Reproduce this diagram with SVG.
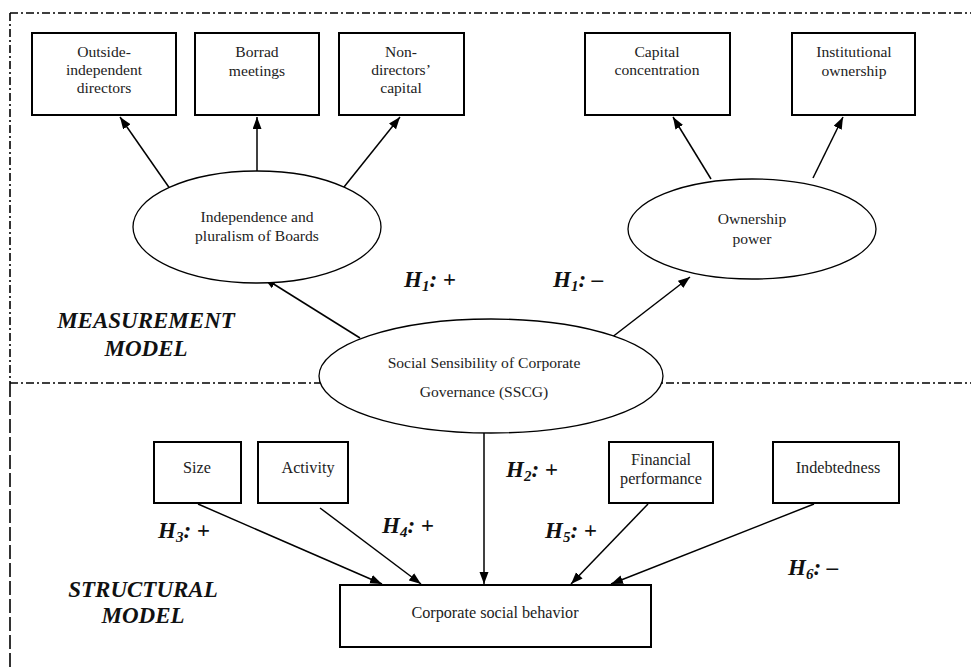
<svg xmlns="http://www.w3.org/2000/svg" width="971" height="671" viewBox="0 0 971 671">
<style>
  .box{fill:#fff;stroke:#000;stroke-width:2}
  .ell{fill:#fff;stroke:#000;stroke-width:1.3}
  .t{font-family:"Liberation Serif","Times New Roman",serif;font-size:15.6px;fill:#222;text-anchor:middle}
  .b{font-size:16.2px}
  .h{font-family:"Liberation Serif","Times New Roman",serif;font-size:23px;font-weight:bold;font-style:italic;fill:#111}
  .m{font-family:"Liberation Serif","Times New Roman",serif;font-size:23px;font-weight:bold;font-style:italic;fill:#111;text-anchor:middle}
  .c line{stroke:#000;stroke-width:1.5;marker-end:url(#ah)}
  .dd{stroke:#000;stroke-width:1.6;fill:none;stroke-dasharray:8 3 2 3}
  .ds{stroke:#000;stroke-width:1.6;fill:none;stroke-dasharray:14 4}
</style>
<defs>
  <marker id="ah" markerUnits="userSpaceOnUse" markerWidth="13" markerHeight="10" refX="12" refY="4.5" orient="auto">
    <path d="M0,0 L12,4.5 L0,9 z" fill="#000"/>
  </marker>
</defs>
<rect width="971" height="671" fill="#fff"/>

<g id="frame">
  <line class="dd" x1="10" y1="13" x2="971" y2="13"/>
  <line class="dd" x1="10" y1="13" x2="10" y2="383"/>
  <line class="ds" x1="10" y1="383" x2="10" y2="671"/>
  <line class="dd" x1="10" y1="383" x2="971" y2="383"/>
</g>

<g id="connectors" class="c">
  <line x1="175" y1="196" x2="120" y2="117"/>
  <line x1="257" y1="172" x2="257" y2="117"/>
  <line x1="340" y1="192" x2="400" y2="117"/>
  <line x1="711" y1="179" x2="673" y2="117"/>
  <line x1="813" y1="178" x2="843" y2="117"/>
  <line x1="360" y1="338" x2="264" y2="278"/>
  <line x1="611" y1="338" x2="690" y2="277"/>
  <line x1="484" y1="433" x2="484" y2="584"/>
  <line x1="198" y1="504" x2="382" y2="584"/>
  <line x1="320" y1="508" x2="421" y2="584"/>
  <line x1="648" y1="504" x2="571" y2="584"/>
  <line x1="814" y1="504" x2="611" y2="584"/>
</g>

<g id="outside-independent-directors">
  <rect class="box" x="32" y="33" width="144" height="82"/>
  <text class="t" x="104" y="57">Outside-</text>
  <text class="t" x="104" y="75">independent</text>
  <text class="t" x="104" y="93">directors</text>
</g>
<g id="borrad-meetings">
  <rect class="box" x="195" y="33" width="124" height="82"/>
  <text class="t" x="257" y="57">Borrad</text>
  <text class="t" x="257" y="76">meetings</text>
</g>
<g id="non-directors-capital">
  <rect class="box" x="339" y="33" width="125" height="82"/>
  <text class="t" x="401" y="57">Non-</text>
  <text class="t" x="401" y="75">directors’</text>
  <text class="t" x="401" y="93">capital</text>
</g>
<g id="capital-concentration">
  <rect class="box" x="585" y="33" width="145" height="82"/>
  <text class="t" x="657" y="57">Capital</text>
  <text class="t" x="657" y="75">concentration</text>
</g>
<g id="institutional-ownership">
  <rect class="box" x="792" y="33" width="123" height="82"/>
  <text class="t" x="854" y="57">Institutional</text>
  <text class="t" x="854" y="76">ownership</text>
</g>

<g id="independence-pluralism">
  <ellipse class="ell" cx="257" cy="227" rx="124" ry="56"/>
  <text class="t" x="257" y="222">Independence and</text>
  <text class="t" x="257" y="241">pluralism of Boards</text>
</g>
<g id="ownership-power">
  <ellipse class="ell" cx="752" cy="229" rx="124" ry="50"/>
  <text class="t" x="752" y="224">Ownership</text>
  <text class="t" x="752" y="244">power</text>
</g>
<g id="sscg">
  <ellipse class="ell" cx="491" cy="376" rx="172" ry="57"/>
  <text class="t" x="484" y="368">Social Sensibility of Corporate</text>
  <text class="t" x="484" y="397">Governance (SSCG)</text>
</g>

<g id="size">
  <rect class="box" x="154" y="442" width="87" height="61"/>
  <text class="t b" x="197" y="473">Size</text>
</g>
<g id="activity">
  <rect class="box" x="258" y="442" width="90" height="61"/>
  <text class="t b" x="308" y="473">Activity</text>
</g>
<g id="financial-performance">
  <rect class="box" x="609" y="442" width="104" height="61"/>
  <text class="t b" x="661" y="465">Financial</text>
  <text class="t b" x="661" y="484">performance</text>
</g>
<g id="indebtedness">
  <rect class="box" x="773" y="442" width="126" height="61"/>
  <text class="t b" x="838" y="473">Indebtedness</text>
</g>
<g id="corporate-social-behavior">
  <rect class="box" x="340" y="585" width="311" height="62"/>
  <text class="t b" x="495" y="618">Corporate social behavior</text>
</g>

<g id="labels">
  <text class="m" x="146" y="328">MEASUREMENT</text>
  <text class="m" x="146" y="356">MODEL</text>
  <text class="m" x="143" y="597">STRUCTURAL</text>
  <text class="m" x="143" y="623">MODEL</text>
  <text class="h" x="404" y="287">H<tspan font-size="15" dy="4">1</tspan><tspan dy="-4">: +</tspan></text>
  <text class="h" x="553" y="287">H<tspan font-size="15" dy="4">1</tspan><tspan dy="-4">: –</tspan></text>
  <text class="h" x="506" y="477">H<tspan font-size="15" dy="4">2</tspan><tspan dy="-4">: +</tspan></text>
  <text class="h" x="158" y="538">H<tspan font-size="15" dy="4">3</tspan><tspan dy="-4">: +</tspan></text>
  <text class="h" x="382" y="533">H<tspan font-size="15" dy="4">4</tspan><tspan dy="-4">: +</tspan></text>
  <text class="h" x="545" y="538">H<tspan font-size="15" dy="4">5</tspan><tspan dy="-4">: +</tspan></text>
  <text class="h" x="788" y="575">H<tspan font-size="15" dy="4">6</tspan><tspan dy="-4">: –</tspan></text>
</g>
</svg>
